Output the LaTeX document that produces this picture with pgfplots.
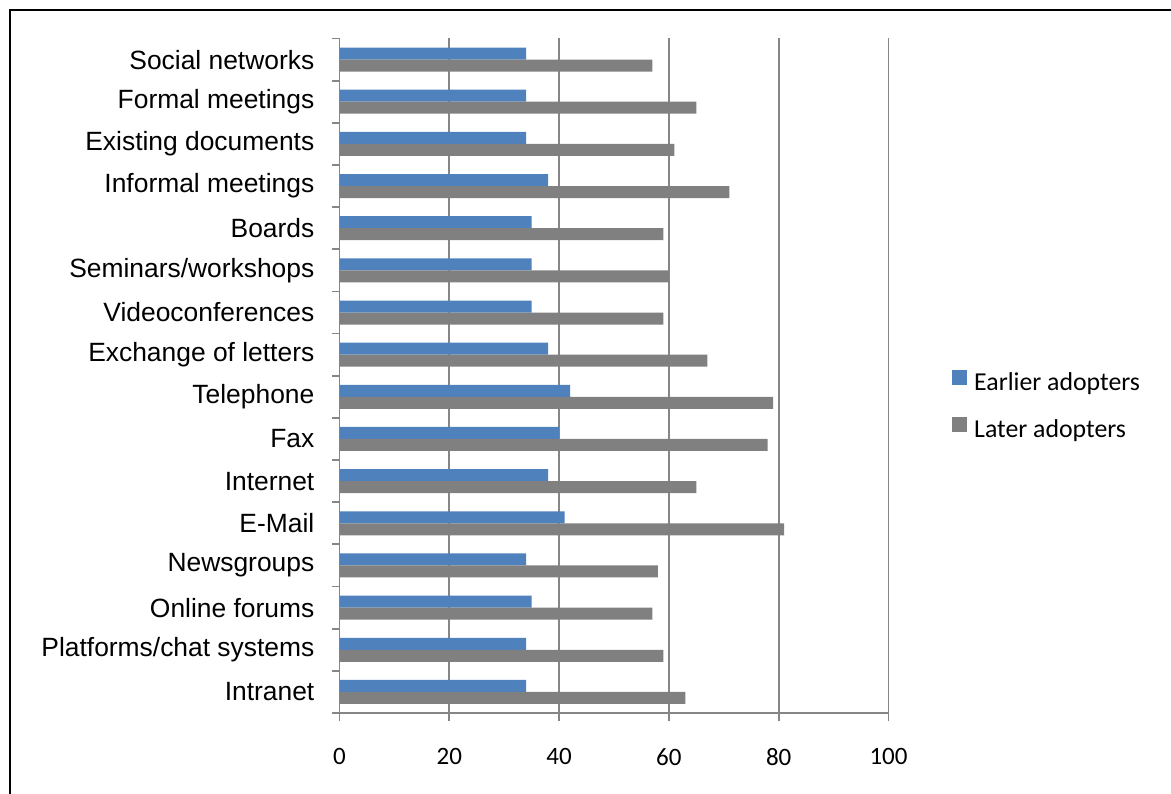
\documentclass[border=0pt]{standalone}
\usepackage{fontspec}
\setmainfont{Liberation Sans}
\newfontfamily\calibri{Carlito}
\usepackage{pgfplots}
\pgfplotsset{compat=1.18}
\definecolor{barblue}{HTML}{4F81BD}
\definecolor{bargray}{HTML}{808080}
\definecolor{axgray}{HTML}{868686}
\begin{document}
\begin{tikzpicture}
\useasboundingbox (0,0) rectangle (1171bp,794bp);
\draw[line width=2bp] (10bp,-5bp) -- (10bp,784bp) -- (1180bp,784bp);
\begin{axis}[
  at={(339.5bp,81bp)}, anchor=south west,
  scale only axis, width=549bp, height=674.5bp,
  xmin=0, xmax=100, ymin=-0.5, ymax=15.5,
  xbar, bar width=12bp,
  axis x line*=bottom, axis y line*=left,
  axis line style={-, axgray, line width=1.8bp},
  xtick={0,20,...,100},
  xmajorgrids, major grid style={axgray, line width=1.8bp},
  ytick={0,...,15},
  yticklabels={Intranet, Platforms/chat systems, Online forums, Newsgroups, E-Mail, Internet, Fax, Telephone, Exchange of letters, Videoconferences, Seminars/workshops, Boards, Informal meetings, Existing documents, Formal meetings, Social networks},
  minor ytick={-0.5,0.5,...,15.5},
  tick align=outside,
  major tick length=8bp, minor tick length=8bp,
  major y tick style={draw=none},
  minor y tick style={axgray, line width=1.8bp},
  major x tick style={axgray, line width=1.8bp},
  /pgf/number format/assume math mode=true,
  yticklabel style={font=\fontsize{26.4bp}{30bp}\selectfont, inner sep=0pt, anchor=east, xshift=-17bp},
  xticklabel style={font=\calibri\fontsize{25bp}{30bp}\selectfont, inner sep=0pt, anchor=north, yshift=-27bp},
  legend style={at={(1.1157,0.509)}, anchor=north west, draw=none, fill=none, inner sep=0pt,
    column sep=7bp, row sep=20bp,
    font=\calibri\fontsize{25.8bp}{30bp}\selectfont,
    nodes={inner sep=0pt, text height=18bp, text depth=6bp, anchor=west}},
  legend cell align=left,
  legend image code/.code={\fill[#1] (0bp,0bp) rectangle (15bp,15bp);},
]
\addplot[fill=barblue, draw=none, bar shift=6bp] coordinates {
(34,0) (34,1) (35,2) (34,3) (41,4) (38,5) (40,6) (42,7)
(38,8) (35,9) (35,10) (35,11) (38,12) (34,13) (34,14) (34,15)};
\addplot[fill=bargray, draw=none, bar shift=-6bp] coordinates {
(63,0) (59,1) (57,2) (58,3) (81,4) (65,5) (78,6) (79,7)
(67,8) (59,9) (60,10) (59,11) (71,12) (61,13) (65,14) (57,15)};
\legend{Earlier adopters, Later adopters}
\end{axis}
\end{tikzpicture}
\end{document}
